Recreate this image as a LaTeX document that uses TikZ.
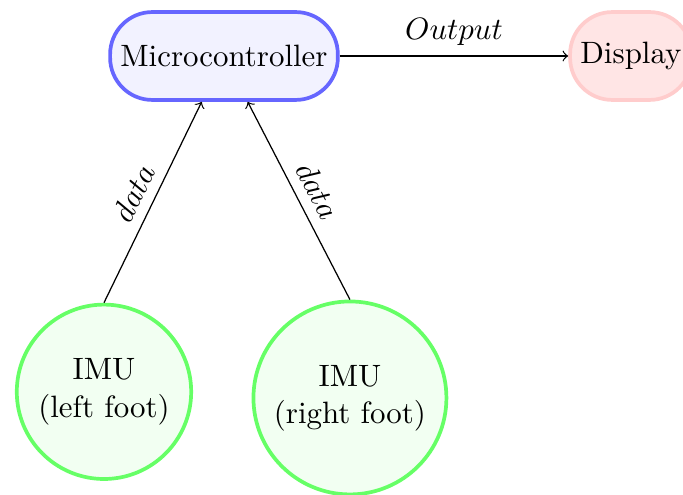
\documentclass[tikz,border=0pt]{standalone}
\usepackage{tikz}
\usetikzlibrary{positioning}

\begin{document}
\begin{tikzpicture}[
  mcubox/.style={draw=blue!60, fill=blue!5, very thick, rounded corners=4.8mm, minimum height=1cm},
  dispbox/.style={draw=red!20, fill=red!10, very thick, rounded corners=4.8mm, minimum height=1cm},
  sensor/.style={circle, draw=green!60, fill=green!5, very thick, align=center}
]
\clip (-2.548,-4.994) rectangle (5.222,0.637);

\node (mc) at (0,0) [mcubox] {Microcontroller};
\node (disp) [dispbox, right=2.6cm of mc] {Display};

\node (imuL) at (-1.365,-3.82) [sensor] {IMU\\(left foot)};
\node (imuR) at (1.433,-3.89) [sensor] {IMU\\(right foot)};

\draw[->] (mc) -- node[above] {$Output$} (disp);

\draw[->] (imuL.north) -- node[midway, above, sloped] {$data$} (mc);
\draw[->] (imuR.north) -- node[midway, above, sloped] {$data$} (mc);

\end{tikzpicture}
\end{document}
